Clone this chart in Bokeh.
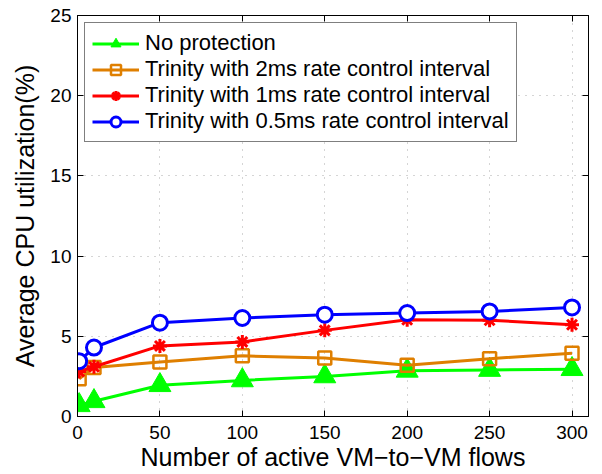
from bokeh.plotting import figure
from bokeh.models import LinearAxis, FixedTicker, Legend, LegendItem, Range1d
from bokeh.embed import file_html
from bokeh.resources import INLINE

# Number of active VM-to-VM flows
flows = [1, 10, 50, 100, 150, 200, 250, 300]

# Average CPU utilization (%) per configuration
no_protection = [0.7, 0.95, 1.95, 2.25, 2.5, 2.85, 2.9, 2.95]
trinity_2ms = [2.35, 3.05, 3.4, 3.78, 3.65, 3.2, 3.6, 3.95]
trinity_1ms = [2.8, 3.1, 4.4, 4.65, 5.37, 6.03, 6.0, 5.72]
trinity_05ms = [3.45, 4.3, 5.85, 6.14, 6.35, 6.45, 6.55, 6.8]

x_ticks = [0, 50, 100, 150, 200, 250, 300]
y_ticks = [0, 5, 10, 15, 20, 25]

FONT = "Liberation Sans"
GREEN = "#00ff00"
ORANGE = "#df7f00"
RED = "#ff0000"
BLUE = "#0000ff"

p = figure(
    width=602, height=474,
    x_range=Range1d(0, 310), y_range=Range1d(0, 25),
    output_backend="svg", toolbar_location=None,
    min_border_left=77, min_border_right=14,
    min_border_top=15, min_border_bottom=58,
)
p.background_fill_color = "white"
p.border_fill_color = "white"
p.outline_line_color = "black"
p.outline_line_width = 1

# axes: inward ticks, no minor ticks
for ax, ticks in ((p.xaxis[0], x_ticks), (p.yaxis[0], y_ticks)):
    ax.ticker = FixedTicker(ticks=ticks)
    ax.major_tick_in = 6
    ax.major_tick_out = 0
    ax.minor_tick_in = 0
    ax.minor_tick_out = 0
    ax.axis_line_color = "black"
    ax.major_tick_line_color = "black"
    ax.major_label_text_font = FONT
    ax.major_label_text_font_size = "19px"
    ax.major_label_text_color = "black"
    ax.axis_label_text_font = FONT
    ax.axis_label_text_font_size = "25px"
    ax.axis_label_text_font_style = "normal"
    ax.axis_label_text_color = "black"

p.xaxis.axis_label = "Number of active VM\u2212to\u2212VM flows"
p.yaxis.axis_label = "Average CPU utilization(%)"
p.xaxis.major_label_standoff = 9
p.xaxis.axis_label_standoff = 1
p.yaxis.major_label_standoff = 6
p.yaxis.axis_label_standoff = 8

# mirrored tick marks on top and right edges (no labels)
for side, ticks in (("above", x_ticks), ("right", y_ticks)):
    mirror = LinearAxis(
        ticker=FixedTicker(ticks=ticks),
        major_label_text_font_size="6px",
        major_label_text_color=None,
        major_label_standoff=0,
        major_tick_in=6, major_tick_out=0,
        minor_tick_in=0, minor_tick_out=0,
        axis_line_color="black", major_tick_line_color="black",
    )
    p.add_layout(mirror, side)

# dotted grid
for g, ticks in ((p.xgrid[0], x_ticks), (p.ygrid[0], y_ticks)):
    g.ticker = FixedTicker(ticks=ticks)
    g.grid_line_color = "#aaaaaa"
    g.grid_line_dash = "1 6"
    g.grid_line_width = 1

# series
l1 = p.line(flows, no_protection, line_color=GREEN, line_width=3)
s1 = p.scatter(flows, no_protection, marker="triangle", size=22,
               fill_color=GREEN, line_color=GREEN, line_width=1)

l2 = p.line(flows, trinity_2ms, line_color=ORANGE, line_width=3)
s2 = p.scatter(flows, trinity_2ms, marker="square", size=13,
               fill_color=None, line_color=ORANGE, line_width=2.5)

l3 = p.line(flows, trinity_1ms, line_color=RED, line_width=3)
s3 = p.scatter(flows, trinity_1ms, marker="asterisk", size=14,
               line_color=RED, line_width=3)

l4 = p.line(flows, trinity_05ms, line_color=BLUE, line_width=3)
s4 = p.scatter(flows, trinity_05ms, marker="circle", size=15,
               fill_color="white", line_color=BLUE, line_width=3)

legend = Legend(
    items=[
        LegendItem(label="No protection", renderers=[l1, s1]),
        LegendItem(label="Trinity with 2ms rate control interval", renderers=[l2, s2]),
        LegendItem(label="Trinity with 1ms rate control interval", renderers=[l3, s3]),
        LegendItem(label="Trinity with 0.5ms rate control interval", renderers=[l4, s4]),
    ],
    location="top_left",
    margin=7,
    padding=7,
    spacing=0,
    glyph_width=47,
    glyph_height=25,
    label_height=25,
    label_standoff=6,
    label_text_font=FONT,
    label_text_font_size="22px",
    label_text_color="black",
    border_line_color="black",
    border_line_width=1,
    background_fill_color="white",
    background_fill_alpha=1,
)
p.add_layout(legend)

open("out.html", "w").write(file_html(p, INLINE))
